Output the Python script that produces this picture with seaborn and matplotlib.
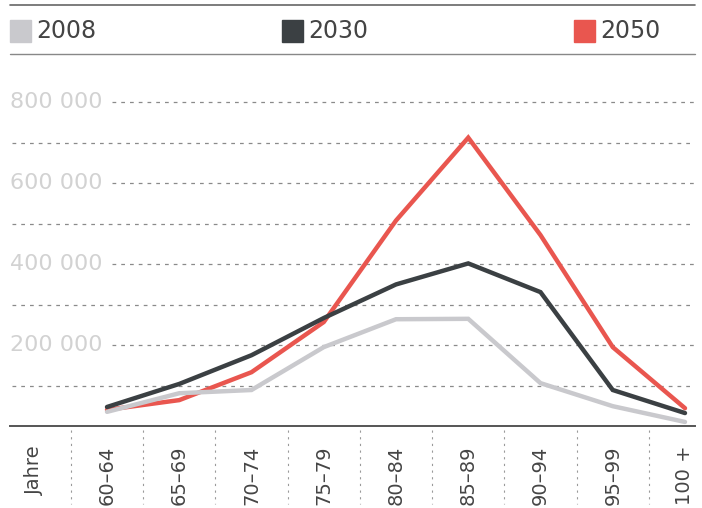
import matplotlib
matplotlib.use('Agg')
import matplotlib.pyplot as plt
from matplotlib.lines import Line2D
from matplotlib.patches import Rectangle
import matplotlib.transforms as mtransforms
import pandas as pd
import seaborn as sns

# Data (people per age group)
age_groups = ['60–64', '65–69', '70–74', '75–79', '80–84', '85–89', '90–94', '95–99', '100 +']
pop_2008 = [35000, 81000, 89000, 195000, 264000, 265000, 106000, 49000, 10000]
pop_2030 = [47000, 104000, 175000, 267000, 350000, 402000, 331000, 89000, 32000]
pop_2050 = [40000, 64000, 133000, 257000, 508000, 713000, 472000, 195000, 44000]
years = ['2008', '2030', '2050']
y_ticks = [200000, 400000, 600000, 800000]

colors = {'2008': '#c9c9cd', '2030': '#3b4043', '2050': '#e9564f'}

rows = []
for year, vals in zip(years, [pop_2008, pop_2030, pop_2050]):
    for i, v in enumerate(vals):
        rows.append({'pos': i, 'value': v, 'year': year})
df = pd.DataFrame(rows)

sns.set_style('white')
plt.rcParams['font.family'] = ['DejaVu Sans']

fig = plt.figure(figsize=(7.02, 5.08), dpi=100)
ax = fig.add_axes([10 / 702, 1 - 426 / 508, 685 / 702, 364 / 508])

# gridlines every 100 000, the labelled ones start after the label
for g in range(100000, 900000, 100000):
    xmin = 102 / 685 if g in y_ticks else 2 / 685
    ax.axhline(g, xmin=xmin, xmax=1, color='#8a8a8a', lw=0.9,
               linestyle=(0, (3, 4)), zorder=0)
for g in y_ticks:
    ax.text(0, g, f"{g // 1000} 000", transform=ax.get_yaxis_transform(),
            ha='left', va='center', fontsize=16, color='#d2d2d2')

order = ['2050', '2008', '2030']
for year in order:
    sns.lineplot(data=df[df['year'] == year], x='pos', y='value', ax=ax,
                 color=colors[year], lw=3.2, legend=False,
                 solid_joinstyle='miter', zorder=3)

x0 = (10 - 107) / 72.25
x1 = (695 - 107) / 72.25
ax.set_xlim(x0, x1)
ax.set_ylim(0, 900000)
ax.set_xlabel('')
ax.set_ylabel('')
ax.set_yticks([])

# category labels incl. "Jahre"
ax.set_xticks(list(range(-1, len(age_groups))))
ax.set_xticklabels(['Jahre'] + age_groups, rotation=90, fontsize=14,
                   color='#454545')
ax.tick_params(axis='x', length=0, pad=14)
for lbl in ax.get_xticklabels():
    lbl.set_verticalalignment('top')

for s in ['top', 'right', 'left']:
    ax.spines[s].set_visible(False)
ax.spines['bottom'].set_color('#555555')
ax.spines['bottom'].set_linewidth(1.4)

# dotted separators below the axis
trans = mtransforms.blended_transform_factory(ax.transData, ax.transAxes)
for i in range(len(age_groups)):
    ax.plot([i - 0.5, i - 0.5], [-0.012, -0.215], transform=trans,
            color='#9a9a9a', lw=0.8, linestyle=(0, (2, 4)), clip_on=False)

# legend band at the top
fig.add_artist(Line2D([10 / 702, 695 / 702], [1 - 5 / 508, 1 - 5 / 508],
                      color='#666666', lw=1.2))
fig.add_artist(Line2D([10 / 702, 695 / 702], [1 - 54 / 508, 1 - 54 / 508],
                      color='#888888', lw=1.0))
legend_x = {'2008': 10, '2030': 282, '2050': 574}
for year in years:
    px = legend_x[year]
    fig.add_artist(Rectangle((px / 702, 1 - 42 / 508), 21 / 702, 22 / 508,
                             transform=fig.transFigure, color=colors[year]))
    fig.text((px + 26) / 702, 1 - 31 / 508, year, fontsize=17,
             color='#444444', ha='left', va='center')

fig.savefig('out.png', dpi=100)
